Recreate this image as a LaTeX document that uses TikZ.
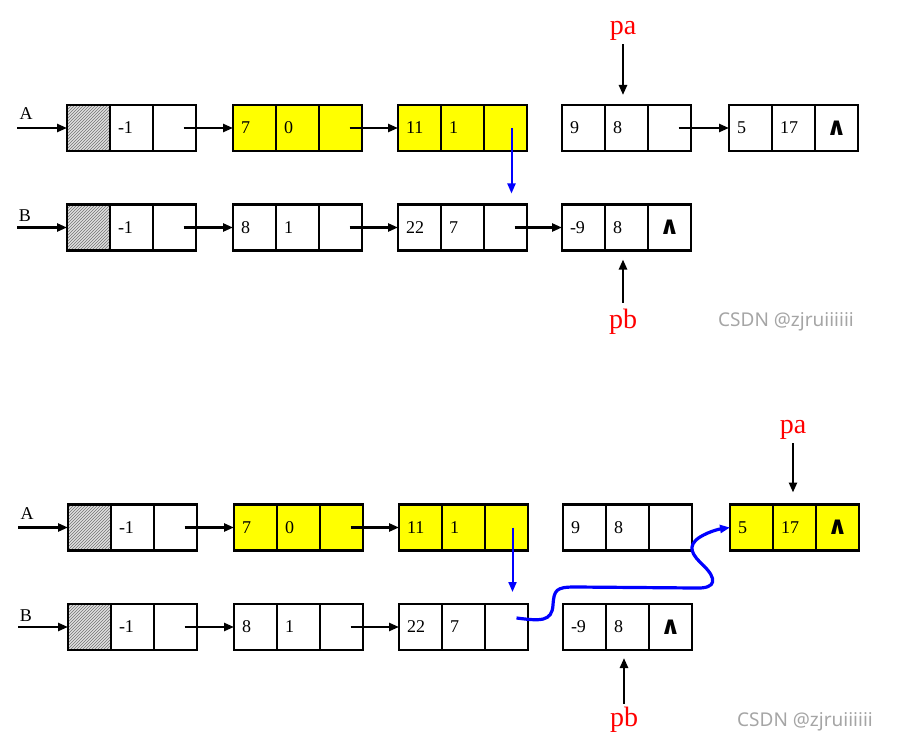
\documentclass[tikz,border=0pt]{standalone}
\usepackage{fontspec}
\setmainfont{Liberation Serif}
\newfontfamily\symfont{DejaVu Sans}
\newfontfamily\markfont{Noto Sans}
\usepackage{tikz}
\usetikzlibrary{arrows.meta,positioning,patterns}
\definecolor{hlyellow}{RGB}{255,255,0}
\definecolor{ptrred}{RGB}{255,0,0}
\definecolor{linkblue}{RGB}{0,0,255}
\definecolor{wmgray}{RGB}{165,165,165}

% one list node: name, x, y, data1, data2, next field, style, style of first field
\newcommand{\listnode}[8]{%
  \node[cell,#7,#8,anchor=west] (#1a) at (#2,#3) {#4};
  \node[cell,#7,right=0pt of #1a] (#1b) {#5};
  \node[cell,#7,align=center,right=0pt of #1b] (#1c) {#6};
}
\newcommand{\nilsym}{{\symfont\bfseries\fontsize{25}{25}\selectfont ∧}}

\begin{document}
\begin{tikzpicture}[x=1pt,y=-1pt,
    cell/.style={draw,line width=2.2pt,outer sep=0pt,minimum height=46pt,
                 inner xsep=8pt,text width=27pt,align=left,
                 font=\fontsize{18}{18}\selectfont},
    hatch/.style={preaction={fill=black!12},pattern=north east lines,pattern color=black!55},
    hilite/.style={fill=hlyellow},
    link/.style={-{Triangle[length=10pt,width=8pt]},line width=2.4pt},
    jump/.style={-{Triangle[length=10pt,width=8pt]},linkblue,line width=2pt},
    ptr/.style={text=ptrred,font=\fontsize{28}{28}\selectfont},
    lbl/.style={font=\fontsize{18}{18}\selectfont},
    wmark/.style={text=wmgray,font=\markfont\fontsize{19}{19}\selectfont}
  ]
  \useasboundingbox (0,0) rectangle (906,741);

  % before: pa on 9, pb on -9
  \listnode{ua0}{67}{128}{}{-1}{}{}{hatch}
  \listnode{ua1}{233}{128}{7}{0}{}{hilite}{}
  \listnode{ua2}{398}{128}{11}{1}{}{hilite}{}
  \listnode{ua3}{562}{128}{9}{8}{}{}{}
  \listnode{ua4}{729}{128}{5}{17}{\nilsym}{}{}
  \listnode{ub0}{67}{227.5}{}{-1}{}{}{hatch}
  \listnode{ub1}{233}{227.5}{8}{1}{}{}{}
  \listnode{ub2}{398}{227.5}{22}{7}{}{}{}
  \listnode{ub3}{562}{227.5}{-9}{8}{\nilsym}{}{}

  \node[lbl] (lA1) at (26,114) {A};
  \node[lbl] (lB1) at (25,216) {B};
  \coordinate (inA1) at (17,128);
  \coordinate (inB1) at (17,227.5);
  \draw[link] (inA1) -- (ua0a.west);
  \draw[link] (inB1) -- (ub0a.west);
  \foreach \s/\t in {ua0/ua1,ua1/ua2,ua3/ua4,ub0/ub1,ub1/ub2,ub2/ub3}
    \draw[link] ([xshift=9pt]\s c.center) -- (\t a.west);
  \draw[jump] ([xshift=6pt]ua2c.center) -- ([xshift=6pt,yshift=11pt]ub2c.north);

  \node[ptr] (pa1) at (623,31) {pa};
  \node[ptr] (pb1) at (623,322) {pb};
  \draw[link,shorten >=10pt] (pa1.south) -- (pa1.south |- ua3b.north);
  \draw[link,shorten <=3pt,shorten >=9pt] (pb1.north) -- (pb1.north |- ub3b.south);
  \node[wmark] (wm1) at (786,322) {CSDN @zjruiiiiii};

  % after: 5 17 joined behind -9 8
  \listnode{la0}{68}{527.5}{}{-1}{}{}{hatch}
  \listnode{la1}{234}{527.5}{7}{0}{}{hilite}{}
  \listnode{la2}{399}{527.5}{11}{1}{}{hilite}{}
  \listnode{la3}{563}{527.5}{9}{8}{}{}{}
  \listnode{la4}{730}{527.5}{5}{17}{\nilsym}{hilite}{}
  \listnode{lb0}{68}{627}{}{-1}{}{}{hatch}
  \listnode{lb1}{234}{627}{8}{1}{}{}{}
  \listnode{lb2}{399}{627}{22}{7}{}{}{}
  \listnode{lb3}{563}{627}{-9}{8}{\nilsym}{}{}

  \node[lbl] (lA2) at (27,514) {A};
  \node[lbl] (lB2) at (26,616) {B};
  \coordinate (inA2) at (18,527.5);
  \coordinate (inB2) at (18,627);
  \draw[link] (inA2) -- (la0a.west);
  \draw[link] (inB2) -- (lb0a.west);
  \foreach \s/\t in {la0/la1,la1/la2,lb0/lb1,lb1/lb2}
    \draw[link] ([xshift=9pt]\s c.center) -- (\t a.west);
  \draw[jump] ([xshift=6pt]la2c.center) -- ([xshift=6pt,yshift=12pt]lb2c.north);
  \draw[jump,line width=3.2pt] ([xshift=10pt,yshift=9pt]lb2c.center)
    .. controls (540,621) and (552,622) .. (553,605)
    .. controls (554,590) and (556,587) .. (575,587) -- (695,588)
    .. controls (718,589) and (716,578) .. (704,566)
    .. controls (692,555) and (686,546) .. (700,537)
    .. controls (710,531) and (720,529) .. (la4a.west);

  \node[ptr] (pa2) at (793,430) {pa};
  \node[ptr] (pb2) at (624,720) {pb};
  \draw[link,shorten >=12pt] (pa2.south) -- (pa2.south |- la4b.north);
  \draw[link,shorten >=8pt] (pb2.north) -- (pb2.north |- lb3b.south);
  \node[wmark] (wm2) at (805,722) {CSDN @zjruiiiiii};
\end{tikzpicture}
\end{document}
